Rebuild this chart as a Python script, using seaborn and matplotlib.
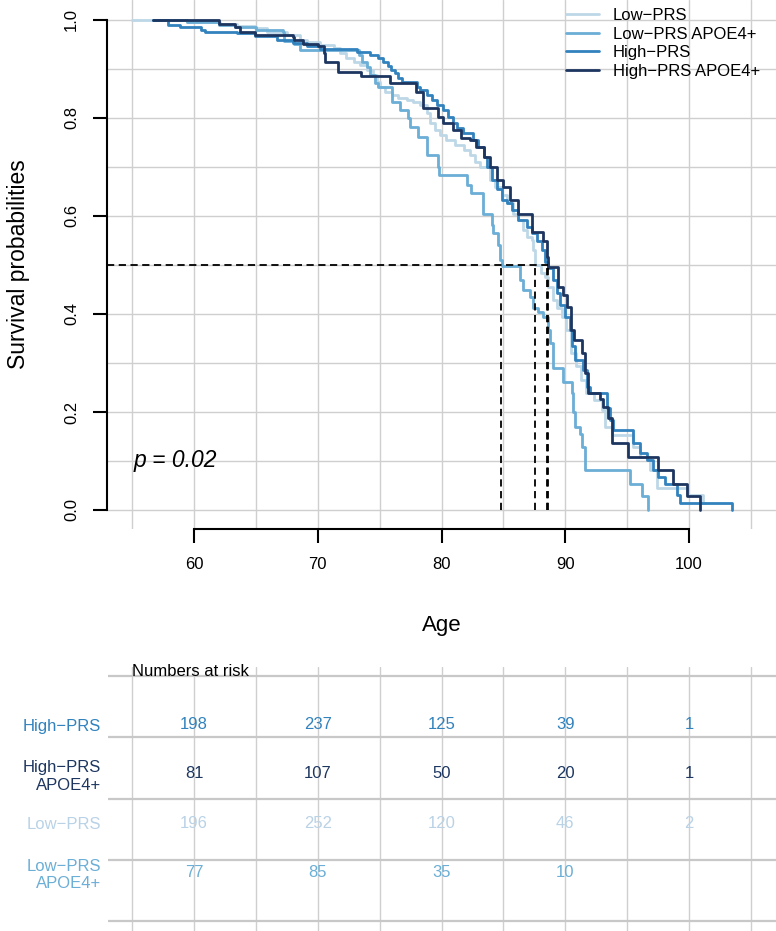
import numpy as np
import pandas as pd
import matplotlib
matplotlib.use("Agg")
import matplotlib.pyplot as plt
import seaborn as sns

# Kaplan-Meier step points: (age, survival after the step)
low_prs = [(55.0, 1.0), (59.4, 0.995), (62.1, 0.992), (63.45, 0.988), (64.9, 0.983), (65.9, 0.976),
           (67.5, 0.969), (68.6, 0.96), (69.1, 0.956), (70.2, 0.949), (71.3, 0.942), (71.8, 0.932),
           (72.3, 0.922), (72.9, 0.915), (73.4, 0.908), (74.0, 0.898), (74.5, 0.888), (74.8, 0.874),
           (75.0, 0.864), (75.4, 0.854), (76.0, 0.847), (76.5, 0.84), (77.2, 0.837), (77.7, 0.833),
           (78.3, 0.827), (78.8, 0.81), (79.1, 0.789), (79.5, 0.776), (79.9, 0.765), (80.4, 0.755),
           (81.1, 0.745), (81.8, 0.735), (82.3, 0.724), (82.7, 0.711), (83.1, 0.70), (83.9, 0.673),
           (84.3, 0.66), (84.9, 0.643), (85.3, 0.626), (85.8, 0.605), (86.2, 0.592), (86.6, 0.571),
           (86.9, 0.558), (87.3, 0.551), (87.4, 0.53), (87.56, 0.50), (88.0, 0.483), (88.4, 0.476),
           (88.6, 0.456), (89.0, 0.429), (89.3, 0.412), (89.7, 0.394), (90.1, 0.367), (90.5, 0.32),
           (90.9, 0.293), (91.3, 0.265), (91.7, 0.238), (92.3, 0.225), (93.0, 0.204), (93.2, 0.17),
           (93.75, 0.153), (95.5, 0.129), (96.0, 0.109), (96.85, 0.082), (97.4, 0.044), (99.8, 0.031),
           (101.15, 0.014), (101.3, 0.014)]

low_prs_e4 = [(56.7, 1.0), (59.4, 0.995), (62.0, 0.99), (63.3, 0.985), (65.0, 0.98), (67.2, 0.975),
              (67.3, 0.957), (68.1, 0.95), (68.6, 0.938), (73.3, 0.929), (73.55, 0.915), (73.96, 0.905),
              (74.22, 0.888), (74.63, 0.871), (74.89, 0.864), (75.97, 0.833), (76.65, 0.816),
              (77.32, 0.799), (77.45, 0.782), (78.13, 0.762), (78.8, 0.724), (79.74, 0.701),
              (79.8, 0.684), (82.04, 0.663), (82.4, 0.646), (83.38, 0.605), (84.06, 0.582),
              (84.2, 0.565), (84.59, 0.541), (84.73, 0.51), (84.85, 0.497), (86.34, 0.469),
              (86.61, 0.449), (87.15, 0.435), (87.42, 0.412), (87.82, 0.405), (88.23, 0.394),
              (88.63, 0.367), (88.77, 0.34), (88.99, 0.289), (89.79, 0.262), (90.52, 0.238),
              (90.65, 0.2), (90.79, 0.17), (91.19, 0.156), (91.33, 0.129), (91.6, 0.082),
              (95.23, 0.054), (96.18, 0.029), (96.71, 0.0)]

high_prs = [(56.7, 1.0), (57.9, 0.99), (58.9, 0.986), (60.6, 0.98), (60.9, 0.976), (63.45, 0.973),
            (64.93, 0.967), (66.68, 0.959), (68.0, 0.954), (69.1, 0.947), (70.18, 0.94), (73.15, 0.934),
            (74.22, 0.929), (74.87, 0.922), (75.27, 0.915), (75.68, 0.906), (75.9, 0.898), (76.24, 0.891),
            (76.51, 0.881), (76.78, 0.874), (78.0, 0.864), (78.26, 0.857), (78.8, 0.847), (79.21, 0.837),
            (79.61, 0.827), (80.15, 0.816), (80.55, 0.803), (80.95, 0.789), (81.23, 0.779), (81.76, 0.769),
            (82.57, 0.755), (82.97, 0.741), (83.4, 0.72), (83.7, 0.70), (84.06, 0.673), (84.46, 0.656),
            (84.86, 0.633), (85.27, 0.626), (85.67, 0.612), (86.2, 0.592), (86.88, 0.578), (87.29, 0.565),
            (87.69, 0.548), (88.1, 0.531), (88.36, 0.507), (88.63, 0.493), (89.03, 0.469), (89.31, 0.442),
            (89.58, 0.418), (89.98, 0.394), (90.38, 0.367), (90.55, 0.335), (90.79, 0.306), (91.46, 0.286),
            (91.73, 0.252), (92.0, 0.238), (93.35, 0.208), (93.62, 0.184), (93.88, 0.163), (95.5, 0.136),
            (96.04, 0.116), (96.58, 0.102), (97.12, 0.082), (97.52, 0.068), (98.06, 0.054), (99.0, 0.031),
            (99.27, 0.015), (103.45, 0.0)]

high_prs_e4 = [(56.7, 1.0), (62.0, 0.991), (63.3, 0.985), (63.7, 0.976), (64.9, 0.969), (68.0, 0.966),
               (68.1, 0.959), (68.8, 0.952), (70.0, 0.946), (70.5, 0.933), (70.6, 0.915), (71.6, 0.894),
               (73.5, 0.885), (75.8, 0.872), (77.9, 0.854), (78.5, 0.82), (79.7, 0.803), (80.1, 0.79),
               (80.9, 0.776), (81.6, 0.759), (82.3, 0.755), (82.8, 0.741), (83.4, 0.72), (83.9, 0.70),
               (84.48, 0.673), (84.97, 0.66), (85.5, 0.633), (86.18, 0.605), (87.35, 0.568), (88.2, 0.548),
               (88.5, 0.517), (88.61, 0.496), (89.41, 0.456), (89.82, 0.439), (90.12, 0.415), (90.5, 0.367),
               (90.7, 0.347), (91.33, 0.32), (91.6, 0.28), (91.84, 0.238), (92.81, 0.226), (93.05, 0.211),
               (93.45, 0.188), (93.75, 0.136), (95.07, 0.109), (97.49, 0.082), (98.71, 0.054),
               (99.81, 0.029), (100.89, 0.0)]

groups = ["Low\u2212PRS", "Low\u2212PRS APOE4+", "High\u2212PRS", "High\u2212PRS APOE4+"]
colors = ["#bdd7e7", "#6baed6", "#3182bd", "#1d3660"]
medians = [87.56, 84.8, 88.55, 88.62]

# numbers at risk table
risk_ages = [60, 70, 80, 90, 100]
risk_rows = ["High\u2212PRS", "High\u2212PRS\nAPOE4+", "Low\u2212PRS", "Low\u2212PRS\nAPOE4+"]
risk_colors = ["#3182bd", "#1d3660", "#b9d2e6", "#6baed6"]
risk_high = [198, 237, 125, 39, 1]
risk_high_e4 = [81, 107, 50, 20, 1]
risk_low = [196, 252, 120, 46, 2]
risk_low_e4 = [77, 85, 35, 10, None]

sns.set_style("white")
plt.rcParams["font.family"] = ["Liberation Sans", "DejaVu Sans"]
plt.rcParams.update({"text.color": "black", "axes.labelcolor": "black",
                     "xtick.color": "black", "ytick.color": "black"})

frames = []
for name, pts in zip(groups, [low_prs, low_prs_e4, high_prs, high_prs_e4]):
    d = pd.DataFrame(pts, columns=["age", "surv"])
    d["group"] = name
    frames.append(d)
df = pd.concat(frames, ignore_index=True)

fig = plt.figure(figsize=(7.76, 9.31), dpi=100)
ax = fig.add_axes([107 / 776, 1 - 529 / 931, 669 / 776, 529 / 931])
x0, x1 = 52.97, 107.03
ax.set_xlim(x0, x1)
ax.set_ylim(-0.0388, 1.0408)

grid_c = "#cfcfcf"
for a in np.arange(55, 106, 5):
    ax.axvline(a, color=grid_c, lw=1, zorder=0)
for s in np.arange(0, 1.01, 0.1):
    ax.axhline(s, color=grid_c, lw=1, zorder=0)

sns.lineplot(data=df, x="age", y="surv", hue="group", hue_order=groups, palette=colors,
             estimator=None, sort=False, drawstyle="steps-post", lw=2, ax=ax, zorder=2)

# median lines
ax.hlines(0.5, x0, max(medians), colors="black", lw=1.3, linestyles=(0, (4, 2.5)), zorder=3)
ax.vlines(medians, 0, 0.5, colors="black", lw=1.3, linestyles=(0, (4, 2.5)), zorder=3)

ax.text(55.1, 0.102, "p = 0.02", fontsize=16.5, style="italic", ha="left", va="center")

for side in ["top", "right"]:
    ax.spines[side].set_visible(False)
ax.spines["left"].set_bounds(0, 1)
ax.spines["bottom"].set_bounds(60, 100)
for side in ["left", "bottom"]:
    ax.spines[side].set_linewidth(1.5)
    ax.spines[side].set_color("black")
ax.set_xticks(risk_ages)
ax.set_yticks([0, 0.2, 0.4, 0.6, 0.8, 1.0])
ax.set_yticklabels(["0.0", "0.2", "0.4", "0.6", "0.8", "1.0"], rotation=90, va="center")
ax.tick_params(axis="both", direction="out", length=10, width=1.5, labelsize=12, pad=10,
               color="black", labelcolor="black", left=True, bottom=True)
ax.set_xlabel("Age", fontsize=16)
ax.set_ylabel("Survival probabilities", fontsize=16.5)
ax.xaxis.set_label_coords(0.5, -0.163)
ax.yaxis.set_label_coords(-0.115, 0.5)

handles, labels = ax.get_legend_handles_labels()
ax.legend(handles, labels, loc="upper left", bbox_to_anchor=(0.686, 0.985), frameon=False,
          fontsize=12, handlelength=2.0, handletextpad=0.8, labelspacing=0.22,
          borderpad=0, borderaxespad=0)

# numbers at risk
tx = fig.add_axes([108 / 776, 0, 668 / 776, (931 - 667) / 931])
tx.set_xlim(53.05, 107.03)
tx.set_ylim(4.2, -1.18)
for a in np.arange(55, 106, 5):
    tx.axvline(a, color=grid_c, lw=1, zorder=0)
for h in np.linspace(-1, 4, 5):
    tx.axhline(h, color="#c8c8c8", lw=1.6, zorder=0)
for r, vals in enumerate([risk_high, risk_high_e4, risk_low, risk_low_e4]):
    for a, v in zip(risk_ages, vals):
        if v is None:
            continue
        tx.text(a, r, str(v), ha="center", va="center", fontsize=12, color=risk_colors[r])
tx.text(55, -1.08, "Numbers at risk", ha="left", va="center", fontsize=12)
for s in tx.spines.values():
    s.set_visible(False)
tx.set_xticks([])
tx.set_yticks(range(len(risk_rows)))
tx.set_yticklabels(risk_rows, fontsize=12)
for lab, c in zip(tx.get_yticklabels(), risk_colors):
    lab.set_color(c)
tx.tick_params(axis="y", length=0, pad=5)

fig.savefig("out.png", dpi=100)
